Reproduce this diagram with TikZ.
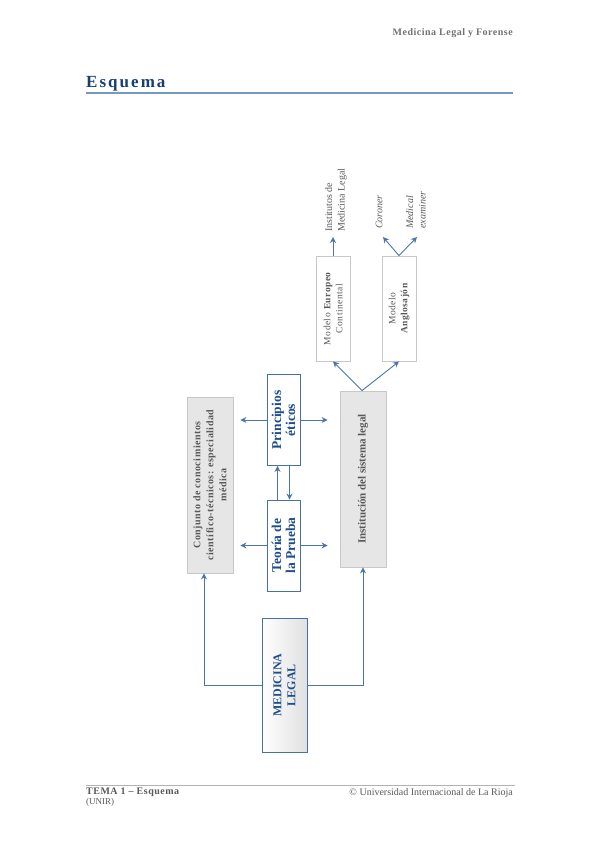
\documentclass[tikz,border=0pt]{standalone}
\usepackage{fontspec}
\setmainfont{Liberation Serif}
\newfontfamily\spacedfont[LetterSpace=12]{Liberation Serif}
\newfontfamily\lightspaced[LetterSpace=5]{Liberation Serif}
\usetikzlibrary{arrows.meta}
\definecolor{arrblue}{HTML}{4A76A8}
\definecolor{boxblue}{HTML}{4A6FA5}
\definecolor{txtblue}{HTML}{1F4E8C}
\definecolor{titleblue}{HTML}{17406D}
\definecolor{graytxt}{HTML}{595959}
\definecolor{grayfill}{HTML}{E6E6E6}
\definecolor{grayline}{HTML}{C8C8C8}
\tikzset{
  arr/.style={draw=arrblue, line width=0.9pt, -{Stealth[length=6pt,width=6pt]}},
  graybox/.style={draw=grayline, fill=grayfill, line width=0.8pt, inner sep=0pt},
  whitebox/.style={draw=grayline, fill=white, line width=0.8pt, inner sep=0pt},
  bluebox/.style={draw=boxblue, fill=white, line width=0.9pt, inner sep=0pt},
  graylabel/.style={rotate=90, text=graytxt, align=center, inner sep=0pt},
  bluelabel/.style={rotate=90, text=txtblue, align=center, inner sep=0pt, font=\bfseries\fontsize{13.5}{14}\selectfont},
  toplabel/.style={rotate=90, anchor=west, align=left, text=graytxt, inner sep=0pt, font=\fontsize{10}{12.5}\selectfont},
}
\begin{document}
\begin{tikzpicture}[x=1pt,y=-1pt]
\useasboundingbox (0,0) rectangle (599,848);
% header / footer
\node[anchor=east, text=graytxt!85, font=\lightspaced\bfseries\fontsize{10}{12}\selectfont, inner sep=0pt] (hdr) at (513,33) {Medicina Legal y Forense};
\node[anchor=base west, text=titleblue, font=\spacedfont\bfseries\fontsize{17}{20}\selectfont, inner sep=0pt] (ttl) at (86,88) {Esquema};
\coordinate (tl1) at (86,93); \coordinate (tl2) at (513,93);
\draw[draw=arrblue!75, line width=1.3pt] (tl1) -- (tl2);
\coordinate (fl1) at (86,785); \coordinate (fl2) at (515,785);
\draw[draw=black!30, line width=1pt] (fl1) -- (fl2);
\node[anchor=north west, text=graytxt, font=\lightspaced\bfseries\fontsize{10}{12}\selectfont, inner sep=0pt] (ftl) at (86,788) {TEMA 1 – Esquema};
\node[anchor=north west, text=graytxt, font=\fontsize{9}{11}\selectfont, inner sep=0pt] (unir) at (86,798) {(UNIR)};
\node[anchor=north east, text=graytxt, font=\fontsize{10}{12}\selectfont, inner sep=0pt] (ftr) at (513,788) {\textcopyright{} Universidad Internacional de La Rioja};

% boxes
\node[bluebox, minimum width=45pt, minimum height=134pt, top color=white, bottom color=black!12, shading angle=90] (med) at (284.5,685) {};
\node[bluelabel, font=\bfseries\fontsize{12}{14}\selectfont] (medt) at (med) {MEDICINA\\LEGAL};

\node[graybox, minimum width=46pt, minimum height=176pt] (conj) at (210,485) {};
\node[graylabel, font=\lightspaced\bfseries\fontsize{10}{13}\selectfont] (conjt) at (conj) {Conjunto de conocimientos\\científico-técnicos: especialidad\\médica};

\node[bluebox, minimum width=33pt, minimum height=91pt] (prin) at (283.5,420) {};
\node[bluelabel] (print) at (prin) {Principios\\éticos};

\node[bluebox, minimum width=33pt, minimum height=91pt] (teo) at (283.5,545.5) {};
\node[bluelabel] (teot) at (teo) {Teoría de\\la Prueba};

\node[graybox, minimum width=46pt, minimum height=176pt] (inst) at (363,479) {};
\node[graylabel, font=\bfseries\fontsize{11}{13}\selectfont] (instt) at (inst) {Institución del sistema legal};

\node[whitebox, minimum width=34pt, minimum height=105pt] (euro) at (333,308.5) {};
\node[graylabel, font=\lightspaced\fontsize{9.5}{12}\selectfont] (eurot) at (euro) {Modelo \textbf{Europeo}\\Continental};

\node[whitebox, minimum width=34pt, minimum height=105pt] (anglo) at (399,308.5) {};
\node[graylabel, font=\lightspaced\fontsize{9.5}{12}\selectfont] (anglot) at (anglo) {Modelo\\\textbf{Anglosajón}};

% top labels
\node[toplabel] (instit) at (336,232) {Institutos de\\Medicina Legal};
\node[toplabel, font=\itshape\fontsize{10}{12.5}\selectfont] (coro) at (379,229) {Coroner};
\node[toplabel, font=\itshape\fontsize{10}{12.5}\selectfont] (medex) at (416,229) {Medical\\examiner};

% connectors
\draw[arr] (med.west) -| ([xshift=-6pt]conj.south);
\draw[arr] (med.east) -| (inst.south);

\draw[arr] (prin.west) -- ([xshift=7pt]conj.east |- prin.west);
\draw[arr] (prin.east) -- ([xshift=-12pt]inst.west |- prin.east);
\draw[arr] (teo.west) -- ([xshift=7pt]conj.east |- teo.west);
\draw[arr] (teo.east) -- ([xshift=-12pt]inst.west |- teo.east);

\draw[arr] ([xshift=-6pt]teo.north) -- ([xshift=-6pt]prin.south);
\draw[arr] ([xshift=6pt]prin.south) -- ([xshift=6pt]teo.north);

\coordinate (apex) at ([xshift=-1pt]inst.north);
\draw[arr] (apex) -- (euro.south);
\draw[arr] (apex) -- (anglo.south);

\coordinate (eurotip) at (333,237);
\draw[arr] (euro.north) -- (eurotip);
\coordinate (angtipl) at (383,237);
\coordinate (angtipr) at (417,237);
\draw[arr] (anglo.north) -- (angtipl);
\draw[arr] (anglo.north) -- (angtipr);
\end{tikzpicture}
\end{document}
